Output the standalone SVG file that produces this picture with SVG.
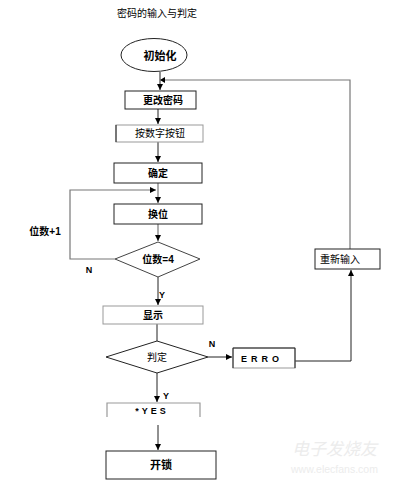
<svg xmlns="http://www.w3.org/2000/svg" width="400" height="486" viewBox="0 0 400 486">
<defs>
<marker id="ah" viewBox="0 0 8 8" refX="8" refY="4" markerWidth="6" markerHeight="6" orient="auto" markerUnits="userSpaceOnUse">
<path d="M0,0 L8,4 L0,8 z" fill="#000"/>
</marker>
</defs>
<style>
text{font-family:"Liberation Sans","Noto Sans CJK SC",sans-serif;fill:#000;}
.t{font-size:10px;text-anchor:middle;}
.b{font-weight:bold;}
.box{fill:#fff;stroke:#222;stroke-width:1;}
.lbox{fill:#fff;stroke:#999;stroke-width:1;}
.ln{fill:none;stroke:#222;stroke-width:1;}
.gl{fill:none;stroke:#777;stroke-width:1.2;}
.wm{fill:#ececec;}
</style>
<rect width="400" height="486" fill="#fff"/>
<text x="117" y="17" style="font-size:10px">密码的输入与判定</text>
<g id="watermark">
<text class="wm" x="292" y="455" style="font-size:17px;font-style:italic">电子发烧友</text>
<text class="wm" x="291" y="473" style="font-size:10.5px">www.elecfans.com</text>
</g>
<g id="connectors">
<path class="ln" d="M160,72 V90" marker-end="url(#ah)"/>
<path class="gl" d="M350,249 V80 H161"/>
<path d="M160,80 l5,-3 v6 z" fill="#000"/>
<path class="ln" d="M158,109 V124" marker-end="url(#ah)"/>
<path class="ln" d="M158,142 V162" marker-end="url(#ah)"/>
<path class="gl" d="M158,183 V203" marker-end="url(#ah)"/>
<path class="gl" d="M115,259 H70 V190 H156" marker-end="url(#ah)"/>
<path class="gl" d="M158,224 V241" marker-end="url(#ah)"/>
<path class="ln" d="M158,277 V305" marker-end="url(#ah)"/>
<path class="ln" d="M157,324 V341"/>
<path class="ln" d="M208,357 H232" marker-end="url(#ah)"/>
<path class="ln" d="M295,361 H351 V270" marker-end="url(#ah)"/>
<path class="ln" d="M157,373 V402" marker-end="url(#ah)"/>
<path class="ln" d="M158,425 V450" marker-end="url(#ah)"/>
</g>
<g id="n-init">
<ellipse cx="154" cy="55" rx="33" ry="16.5" fill="#fff" stroke="#222"/>
<text class="t b" x="160" y="60" style="font-size:11px">初始化</text>
</g>
<g id="n-change">
<rect class="box" x="125" y="91" width="71" height="18"/>
<text class="t b" x="163" y="104">更改密码</text>
</g>
<g id="n-press">
<rect class="lbox" x="116" y="125" width="87" height="17"/>
<path class="ln" d="M116,125 V142"/>
<text class="t" x="160" y="137">按数字按钮</text>
</g>
<g id="n-confirm">
<rect class="box" x="114" y="163" width="88" height="20"/>
<text class="t b" x="158" y="177">确定</text>
</g>
<g id="n-shift">
<rect class="box" x="114" y="204" width="88" height="20"/>
<text class="t b" x="158" y="218">换位</text>
</g>
<g id="n-digits">
<polygon points="158,242 200,259 158,277 115,259" fill="#fff" stroke="#444"/>
<text class="t b" x="158" y="263">位数=4</text>
</g>
<text class="t b" x="45" y="235">位数+1</text>
<text class="t b" x="89" y="273" style="font-size:9px">N</text>
<text class="t b" x="162" y="298" style="font-size:9px">Y</text>
<g id="n-display">
<rect class="lbox" x="103" y="306" width="100" height="18"/>
<text class="t b" x="153" y="319">显示</text>
</g>
<g id="n-judge">
<polygon points="157,341 208,357 157,373 106,357" fill="#fff" stroke="#222"/>
<text class="t" x="157" y="361">判定</text>
</g>
<text class="t b" x="212" y="347" style="font-size:9px">N</text>
<g id="n-erro">
<rect class="lbox" x="233" y="348" width="62" height="20"/>
<path class="ln" d="M233,348 V368 M233,348 H295 V368"/>
<text class="b" x="241" y="362" style="font-size:9px;letter-spacing:4px">ERRO</text>
</g>
<g id="n-reenter">
<rect class="box" x="315" y="249" width="65" height="20"/>
<text x="320" y="263" style="font-size:10px">重新输入</text>
</g>
<text class="t b" x="166" y="399" style="font-size:9px">Y</text>
<g id="n-yes">
<path class="gl" d="M107,417 V403 H200 V417" style="stroke:#999"/>
<text class="t b" x="152" y="414" style="font-size:9px;letter-spacing:3px">*YES</text>
</g>
<g id="n-unlock">
<rect class="box" x="106" y="451" width="110" height="28"/>
<text class="t b" x="161" y="469" style="font-size:11px">开锁</text>
</g>
</svg>
